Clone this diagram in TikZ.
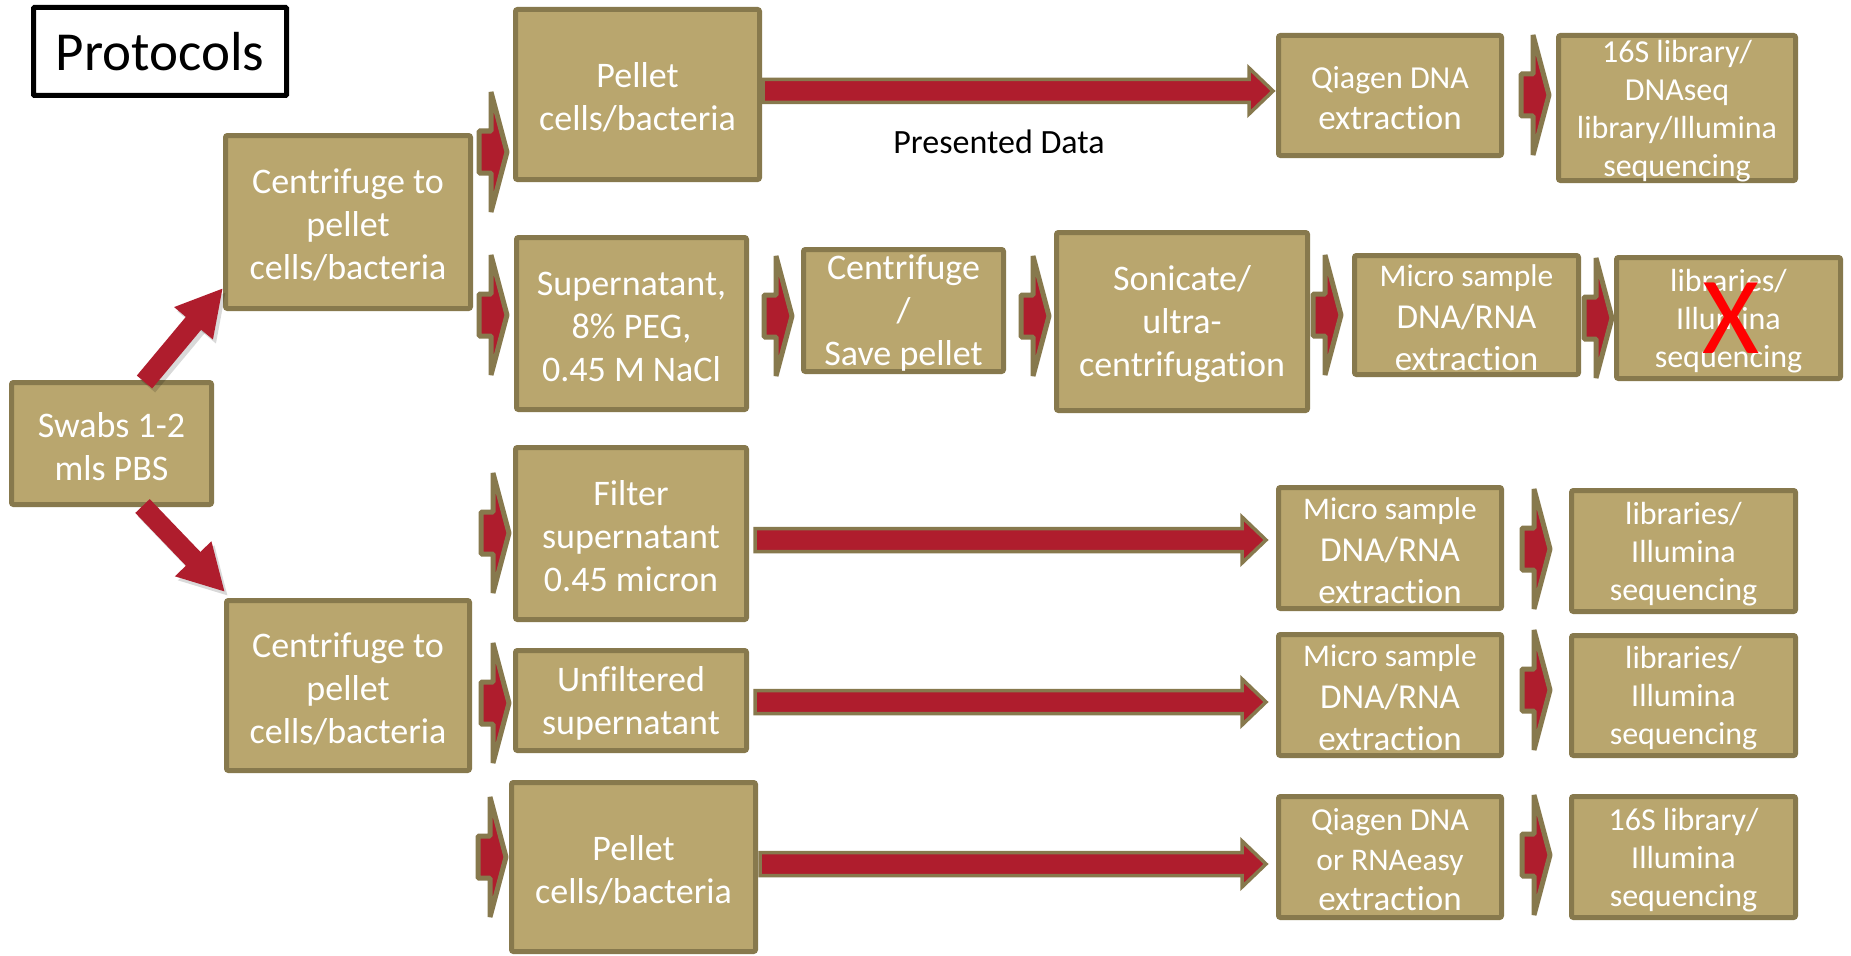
\documentclass[tikz,border=0pt]{standalone}
\usepackage{fontspec}
\setmainfont{Carlito}[Ligatures=NoCommon]
\usetikzlibrary{calc,arrows.meta}
\definecolor{boxfill}{RGB}{185,166,110}
\definecolor{boxline}{RGB}{135,121,77}
\definecolor{arrred}{RGB}{175,29,45}
\newcommand\fsz[2]{\fontsize{#1}{#2}\selectfont}
\tikzset{
  box/.style={rectangle, fill=boxfill, draw=boxline, line width=5pt, rounded corners=2pt, inner sep=0pt},
  boxtext/.style={text=white, align=center, inner sep=0pt, yshift=-3pt, font=\fsz{36}{43}},
  blockarrow/.style={fill=arrred, draw=boxline, line width=5pt, line join=bevel},
  longarrow/.style={fill=arrred, draw=boxline, line width=3.5pt, line join=miter},
  diagarrow/.style={draw=arrred, line width=20pt, -{Triangle[length=46pt,width=47pt]}},
  diagshadow/.style={draw=black, opacity=0.15, line width=20pt, -{Triangle[length=46pt,width=47pt]}},
}
% box: name, x0, y0, x1, y1, text-style, text
\newcommand\bx[7]{%
  \node[box, minimum width={(#4)-(#2)-5}, minimum height={(#5)-(#3)-5}] (#1) at ({((#2)+(#4))/2},{((#3)+(#5))/2}) {};
  \node[boxtext, #6] (#1-t) at (#1.center) {#7};}
% chevron arrow: from, to, y centre, gap before target
\newcommand\chev[4]{%
  \filldraw[blockarrow] let \p1=(#1.east), \p2=(#2.west), \n1={\x2-(#4)*1pt}, \n2={\n1-16pt}, \n3={\n1-28pt}, \n4={-(#3)*1pt} in
   (\n3,\n4+21pt) -- (\n2,\n4+21pt) -- (\n2,\n4+60pt) -- (\n1,\n4) -- (\n2,\n4-60pt) -- (\n2,\n4-21pt) -- (\n3,\n4-21pt) -- cycle;}
% long arrow: from, to, y centre, start offset, gap before target
\newcommand\longarr[5]{%
  \filldraw[longarrow] let \p1=(#1.east), \p2=(#2.west), \n1={\x2-(#5)*1pt}, \n2={\n1-24pt}, \n3={\x1+(#4)*1pt}, \n4={-(#3)*1pt} in
   (\n3,\n4+11.5pt) -- (\n2,\n4+11.5pt) -- (\n2,\n4+23pt) -- (\n1,\n4) -- (\n2,\n4-23pt) -- (\n2,\n4-11.5pt) -- (\n3,\n4-11.5pt) -- cycle;}
\begin{document}
\begin{tikzpicture}[x=1pt,y=-1pt]
\useasboundingbox[fill=white] (0,0) rectangle (1851,955);

% title
\node[draw=black, line width=5pt, fill=white, minimum width=253, minimum height=88, inner sep=0pt, rounded corners=1pt, font=\fsz{55}{60}] (title) at (160,51.5) {Protocols};

% column 1
\bx{swab}{9}{380}{214}{507}{}{Swabs 1-2\\mls PBS}
\bx{ctrU}{223}{133}{473}{311}{}{Centrifuge to\\pellet\\cells/bacteria}
\bx{ctrL}{224}{598}{472}{773}{}{Centrifuge to\\pellet\\cells/bacteria}

% column 2
\bx{pelT}{513}{7}{762}{182}{}{Pellet\\cells/bacteria}
\bx{sup}{514}{235}{749}{412}{}{Supernatant,\\8\% PEG,\\0.45 M NaCl}
\bx{fil}{513}{445}{749}{622}{}{Filter\\supernatant\\0.45 micron}
\bx{unf}{513}{648}{749}{753}{}{Unfiltered\\supernatant}
\bx{pelB}{509}{780}{758}{954}{}{Pellet\\cells/bacteria}

% row 2 chain
\bx{cfs}{801}{247}{1006}{374}{}{Centrifuge\\/\\Save pellet}
\bx{son}{1054}{230}{1310}{413}{}{Sonicate/\\ultra-\\centrifugation}
\bx{ms2}{1352}{253}{1581}{377}{font=\fsz{35}{42}}{{\fsz{31.5}{42}Micro sample}\\DNA/RNA\\extraction}
\bx{lib2}{1614}{255}{1843}{381}{font=\fsz{32}{38}}{libraries/\\Illumina\\sequencing}
\node[text=red, inner sep=0pt, font=\fsz{110}{120}] (xmark) at (1731,318) {X};

% right columns
\bx{qia1}{1276}{33}{1504}{158}{font=\fsz{35}{41}}{{\fsz{32}{41}Qiagen DNA}\\extraction}
\bx{s16a}{1556}{33}{1798}{183}{font=\fsz{32}{38}}{16S library/\\DNAseq\\library/Illumina\\sequencing}
\bx{ms3}{1276}{485}{1504}{611}{font=\fsz{35}{42}}{{\fsz{31.5}{42}Micro sample}\\DNA/RNA\\extraction}
\bx{lib3}{1569}{488}{1798}{614}{font=\fsz{32}{38}}{libraries/\\Illumina\\sequencing}
\bx{ms4}{1276}{632}{1504}{758}{font=\fsz{35}{42}}{{\fsz{31.5}{42}Micro sample}\\DNA/RNA\\extraction}
\bx{lib4}{1569}{633}{1798}{758}{font=\fsz{32}{38}}{libraries/\\Illumina\\sequencing}
\bx{qia5}{1276}{794}{1504}{920}{font=\fsz{35}{40}}{{\fsz{32}{40}Qiagen DNA}\\{\fsz{31.5}{40}or RNAeasy}\\extraction}
\bx{s16b}{1569}{794}{1798}{920}{font=\fsz{32}{38}}{16S library/\\Illumina\\sequencing}

% label
\node[font=\fsz{34}{40}, inner sep=0pt] (pd) at (999,142) {Presented Data};

% diagonal arrows
\coordinate (dU0) at ($(swab.north)+(33,2)$);
\coordinate (dU1) at ($(ctrU.south west)+(0,-23)$);
\coordinate (dD0) at ($(swab.south)+(31,-1)$);
\coordinate (dD1) at ($(ctrL.north west)+(1,-6)$);
\draw[diagshadow] ($(dU0)+(3,4)$) -- ($(dU1)+(3,4)$);
\draw[diagshadow] ($(dD0)+(3,4)$) -- ($(dD1)+(3,4)$);
\draw[diagarrow] (dU0) -- (dU1);
\draw[diagarrow] (dD0) -- (dD1);

% chevrons
\chev{ctrU}{pelT}{152}{6}
\chev{ctrU}{sup}{315}{7}
\chev{sup}{cfs}{316}{9}
\chev{cfs}{son}{316}{5}
\chev{son}{ms2}{315}{11}
\chev{ms2}{lib2}{318}{2}
\chev{qia1}{s16a}{95}{7}
\chev{ctrL}{fil}{533}{4}
\chev{ctrL}{unf}{703}{4}
\chev{ctrL}{pelB}{857}{3}
\chev{ms3}{lib3}{549}{19}
\chev{ms4}{lib4}{690}{19}
\chev{qia5}{s16b}{855}{19}

% long arrows
\longarr{pelT}{qia1}{91}{1}{3}
\longarr{fil}{ms3}{540}{6}{10}
\longarr{unf}{ms4}{702}{6}{10}
\longarr{pelB}{qia5}{864}{2}{10}
\end{tikzpicture}
\end{document}
